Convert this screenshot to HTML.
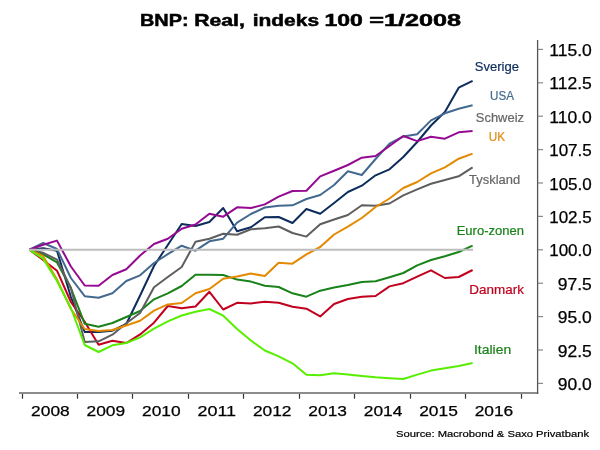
<!DOCTYPE html>
<html><head><meta charset="utf-8"><style>
html,body{margin:0;padding:0;background:#fff;}
body{width:600px;height:450px;overflow:hidden;position:relative;font-family:"Liberation Sans",sans-serif;}
svg{position:absolute;left:0;top:0;will-change:transform;}
</style></head><body>
<svg width="600" height="450" viewBox="0 0 600 450" font-family="Liberation Sans, sans-serif">
<g font-size="16.5" font-weight="bold" fill="#000" stroke="#000" stroke-width="0.5"><text x="140.00" y="26" textLength="48.60" lengthAdjust="spacingAndGlyphs">BNP:</text><text x="194.20" y="26" textLength="50.70" lengthAdjust="spacingAndGlyphs">Real,</text><text x="252.70" y="26" textLength="66.40" lengthAdjust="spacingAndGlyphs">indeks</text><text x="324.50" y="26" textLength="38.40" lengthAdjust="spacingAndGlyphs">100</text><text x="369.20" y="26" textLength="91.90" lengthAdjust="spacingAndGlyphs">=1/2008</text></g>
<g fill="none" stroke-width="2" stroke-linejoin="round" stroke-linecap="butt">
<polyline points="29.3,249.7 43.2,248.2 57.0,250.7 70.9,297.0 84.7,332.0 98.6,332.0 112.4,330.7 126.3,324.0 140.1,295.5 154.0,266.0 167.8,245.0 181.7,224.0 195.5,226.0 209.4,222.0 223.2,208.0 237.1,231.3 250.9,227.3 264.8,217.3 278.7,217.0 292.5,223.0 306.4,209.0 320.2,213.7 334.1,203.0 347.9,192.0 361.8,185.7 375.6,175.3 389.5,169.3 403.3,157.0 417.2,142.0 431.0,125.5 444.9,112.0 458.7,87.7 472.6,80.8" stroke="#0c2c5c"/>
<polyline points="29.3,249.7 43.2,243.0 57.0,249.0 70.9,278.0 84.7,296.2 98.6,297.7 112.4,293.3 126.3,281.0 140.1,275.3 154.0,263.0 167.8,254.2 181.7,245.7 195.5,250.7 209.4,241.3 223.2,238.7 237.1,222.7 250.9,214.0 264.8,207.5 278.7,205.7 292.5,205.3 306.4,199.0 320.2,195.0 334.1,185.0 347.9,171.3 361.8,175.0 375.6,159.0 389.5,143.7 403.3,136.5 417.2,134.3 431.0,120.4 444.9,113.3 458.7,108.7 472.6,105.3" stroke="#44698f"/>
<polyline points="29.3,249.7 43.2,244.7 57.0,240.6 70.9,266.5 84.7,285.5 98.6,285.7 112.4,275.0 126.3,269.3 140.1,255.5 154.0,244.0 167.8,238.8 181.7,228.7 195.5,224.5 209.4,213.7 223.2,216.7 237.1,207.3 250.9,208.0 264.8,204.4 278.7,196.7 292.5,191.0 306.4,190.7 320.2,176.4 334.1,170.7 347.9,165.0 361.8,157.7 375.6,156.0 389.5,146.0 403.3,136.0 417.2,141.1 431.0,136.7 444.9,138.7 458.7,132.3 472.6,131.1" stroke="#950a92"/>
<polyline points="29.3,249.7 43.2,260.0 57.0,270.7 70.9,302.0 84.7,321.8 98.6,344.7 112.4,340.8 126.3,343.0 140.1,334.4 154.0,322.7 167.8,306.0 181.7,308.3 195.5,306.5 209.4,291.8 223.2,309.5 237.1,302.8 250.9,303.5 264.8,301.7 278.7,302.7 292.5,306.7 306.4,308.7 320.2,316.4 334.1,304.0 347.9,299.0 361.8,296.7 375.6,296.0 389.5,286.4 403.3,283.2 417.2,276.6 431.0,270.3 444.9,278.0 458.7,277.0 472.6,270.0" stroke="#c1001f"/>
<polyline points="29.3,249.7 43.2,254.3 57.0,262.4 70.9,288.0 84.7,323.8 98.6,326.7 112.4,323.0 126.3,317.0 140.1,311.0 154.0,299.3 167.8,293.3 181.7,286.0 195.5,274.8 209.4,274.7 223.2,275.0 237.1,279.6 250.9,281.6 264.8,285.7 278.7,287.0 292.5,293.3 306.4,296.7 320.2,290.7 334.1,287.5 347.9,285.0 361.8,282.0 375.6,281.3 389.5,277.3 403.3,273.0 417.2,265.4 431.0,260.0 444.9,256.3 458.7,252.0 472.6,245.6" stroke="#1a821a"/>
<polyline points="29.3,249.7 43.2,252.8 57.0,259.6 70.9,288.0 84.7,342.0 98.6,341.3 112.4,334.7 126.3,323.3 140.1,313.0 154.0,287.3 167.8,277.0 181.7,267.0 195.5,241.7 209.4,238.7 223.2,233.7 237.1,234.7 250.9,229.3 264.8,228.3 278.7,226.5 292.5,233.0 306.4,236.6 320.2,224.3 334.1,219.5 347.9,215.0 361.8,205.3 375.6,205.7 389.5,203.5 403.3,195.3 417.2,189.3 431.0,183.7 444.9,180.0 458.7,176.3 472.6,167.3" stroke="#5e5e5e"/>
<polyline points="29.3,249.7 43.2,256.2 57.0,279.6 70.9,309.0 84.7,329.0 98.6,331.0 112.4,330.0 126.3,325.5 140.1,320.7 154.0,310.6 167.8,304.4 181.7,303.0 195.5,293.3 209.4,289.0 223.2,278.7 237.1,276.4 250.9,273.6 264.8,276.0 278.7,262.7 292.5,263.7 306.4,254.3 320.2,247.0 334.1,234.5 347.9,226.7 361.8,218.0 375.6,207.0 389.5,198.5 403.3,188.0 417.2,182.0 431.0,173.3 444.9,167.3 458.7,158.7 472.6,153.6" stroke="#e38a00"/>
<polyline points="29.3,249.7 43.2,258.7 57.0,281.0 70.9,308.0 84.7,345.0 98.6,352.0 112.4,345.3 126.3,343.0 140.1,337.3 154.0,328.7 167.8,321.3 181.7,315.5 195.5,311.7 209.4,309.0 223.2,315.7 237.1,329.0 250.9,340.5 264.8,350.5 278.7,356.4 292.5,363.3 306.4,374.7 320.2,375.2 334.1,373.3 347.9,374.4 361.8,376.0 375.6,377.3 389.5,378.3 403.3,379.0 417.2,374.6 431.0,370.6 444.9,368.3 458.7,366.0 472.6,363.0" stroke="#58ee00"/>
</g>
<line x1="29" y1="249.8" x2="473" y2="249.8" stroke="#bdbdbd" stroke-width="2"/>
<line x1="19" y1="393" x2="538.2" y2="393" stroke="#8c8c8c" stroke-width="2"/>
<line x1="537.6" y1="40" x2="537.6" y2="394" stroke="#555" stroke-width="1.3"/>
<g stroke="#888" stroke-width="1.2">
<line x1="538" y1="49.40" x2="543" y2="49.40"/>
<line x1="538" y1="82.80" x2="543" y2="82.80"/>
<line x1="538" y1="116.20" x2="543" y2="116.20"/>
<line x1="538" y1="149.60" x2="543" y2="149.60"/>
<line x1="538" y1="183.00" x2="543" y2="183.00"/>
<line x1="538" y1="216.40" x2="543" y2="216.40"/>
<line x1="538" y1="249.80" x2="543" y2="249.80"/>
<line x1="538" y1="283.20" x2="543" y2="283.20"/>
<line x1="538" y1="316.60" x2="543" y2="316.60"/>
<line x1="538" y1="350.00" x2="543" y2="350.00"/>
<line x1="538" y1="383.40" x2="543" y2="383.40"/>
</g>
<g stroke="#333" stroke-width="1.2">
<line x1="22.50" y1="394" x2="22.50" y2="398.7"/>
<line x1="77.50" y1="394" x2="77.50" y2="398.7"/>
<line x1="132.50" y1="394" x2="132.50" y2="398.7"/>
<line x1="188.50" y1="394" x2="188.50" y2="398.7"/>
<line x1="243.50" y1="394" x2="243.50" y2="398.7"/>
<line x1="299.50" y1="394" x2="299.50" y2="398.7"/>
<line x1="354.50" y1="394" x2="354.50" y2="398.7"/>
<line x1="410.50" y1="394" x2="410.50" y2="398.7"/>
<line x1="465.50" y1="394" x2="465.50" y2="398.7"/>
<line x1="521.50" y1="394" x2="521.50" y2="398.7"/>
</g>
<g font-size="15.6" fill="#000" stroke="#000" stroke-width="0.25">
<text x="591.8" y="56.00" text-anchor="end" textLength="42.6" lengthAdjust="spacingAndGlyphs">115.0</text>
<text x="591.8" y="89.40" text-anchor="end" textLength="42.6" lengthAdjust="spacingAndGlyphs">112.5</text>
<text x="591.8" y="122.80" text-anchor="end" textLength="42.6" lengthAdjust="spacingAndGlyphs">110.0</text>
<text x="591.8" y="156.20" text-anchor="end" textLength="42.6" lengthAdjust="spacingAndGlyphs">107.5</text>
<text x="591.8" y="189.60" text-anchor="end" textLength="42.6" lengthAdjust="spacingAndGlyphs">105.0</text>
<text x="591.8" y="223.00" text-anchor="end" textLength="42.6" lengthAdjust="spacingAndGlyphs">102.5</text>
<text x="591.8" y="256.40" text-anchor="end" textLength="42.6" lengthAdjust="spacingAndGlyphs">100.0</text>
<text x="591.8" y="289.80" text-anchor="end" textLength="34.0" lengthAdjust="spacingAndGlyphs">97.5</text>
<text x="591.8" y="323.20" text-anchor="end" textLength="34.0" lengthAdjust="spacingAndGlyphs">95.0</text>
<text x="591.8" y="356.60" text-anchor="end" textLength="34.0" lengthAdjust="spacingAndGlyphs">92.5</text>
<text x="591.8" y="390.00" text-anchor="end" textLength="34.0" lengthAdjust="spacingAndGlyphs">90.0</text>
</g>
<g font-size="15.1" fill="#000" stroke="#000" stroke-width="0.25">
<text x="50.42" y="415.6" text-anchor="middle" textLength="38.6" lengthAdjust="spacingAndGlyphs">2008</text>
<text x="105.87" y="415.6" text-anchor="middle" textLength="38.6" lengthAdjust="spacingAndGlyphs">2009</text>
<text x="161.31" y="415.6" text-anchor="middle" textLength="38.6" lengthAdjust="spacingAndGlyphs">2010</text>
<text x="216.76" y="415.6" text-anchor="middle" textLength="38.6" lengthAdjust="spacingAndGlyphs">2011</text>
<text x="272.20" y="415.6" text-anchor="middle" textLength="38.6" lengthAdjust="spacingAndGlyphs">2012</text>
<text x="327.64" y="415.6" text-anchor="middle" textLength="38.6" lengthAdjust="spacingAndGlyphs">2013</text>
<text x="383.09" y="415.6" text-anchor="middle" textLength="38.6" lengthAdjust="spacingAndGlyphs">2014</text>
<text x="438.53" y="415.6" text-anchor="middle" textLength="38.6" lengthAdjust="spacingAndGlyphs">2015</text>
<text x="493.98" y="415.6" text-anchor="middle" textLength="38.6" lengthAdjust="spacingAndGlyphs">2016</text>
</g>
<g font-size="12.2">
<text x="474.7" y="70.60" fill="#0c2c5c" stroke="#0c2c5c" stroke-width="0.2" textLength="44.2" lengthAdjust="spacingAndGlyphs">Sverige</text>
<text x="490.0" y="100.00" fill="#44698f" stroke="#44698f" stroke-width="0.2" textLength="23.9" lengthAdjust="spacingAndGlyphs">USA</text>
<text x="475.8" y="121.50" fill="#666666" stroke="#666666" stroke-width="0.2" textLength="48.2" lengthAdjust="spacingAndGlyphs">Schweiz</text>
<text x="488.8" y="140.80" fill="#e08a10" stroke="#e08a10" stroke-width="0.2" textLength="16.4" lengthAdjust="spacingAndGlyphs">UK</text>
<text x="469.1" y="183.70" fill="#666666" stroke="#666666" stroke-width="0.2" textLength="51.0" lengthAdjust="spacingAndGlyphs">Tyskland</text>
<text x="456.7" y="234.70" fill="#1a821a" stroke="#1a821a" stroke-width="0.2" textLength="67.3" lengthAdjust="spacingAndGlyphs">Euro-zonen</text>
<text x="469.3" y="293.75" fill="#c1001f" stroke="#c1001f" stroke-width="0.2" textLength="54.6" lengthAdjust="spacingAndGlyphs">Danmark</text>
<text x="474.0" y="353.80" fill="#1a821a" stroke="#1a821a" stroke-width="0.2" textLength="37.2" lengthAdjust="spacingAndGlyphs">Italien</text>
</g>
<text x="396" y="436.7" font-size="9.5" fill="#000" stroke="#000" stroke-width="0.2" textLength="193" lengthAdjust="spacingAndGlyphs">Source: Macrobond &amp; Saxo Privatbank</text>
</svg>
</body></html>
